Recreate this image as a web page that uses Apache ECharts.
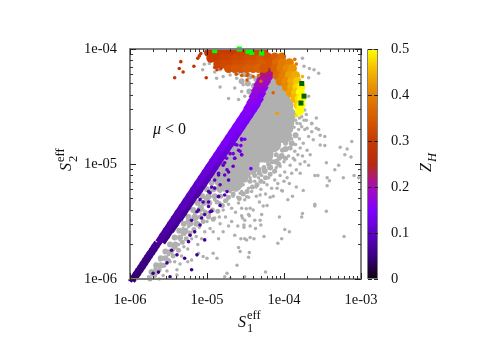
<!DOCTYPE html>
<html><head><meta charset="utf-8">
<style>html,body{margin:0;padding:0;background:#fff}#c{width:491px;height:343px}</style>
<script src="https://cdn.jsdelivr.net/npm/echarts@6/dist/echarts.min.js"></script>
</head><body><div id="c"></div>
<script>
// All points as [log10 S1, log10 S2] or [log10 S1, log10 S2, Z_H].
const xTickLabels=['1e-06','1e-05','1e-04','1e-03'];
const yTickLabels=['1e-06','1e-05','1e-04'];
const palette=['#100010','#3a0080','#5f00c8','#8000ff','#a80cb8','#b82a10','#c83a00','#d85c00','#e48000','#f4b400','#ffff00'];
const greyCore=[[-4.15,-4.32],[-4.07,-4.33],[-4.29,-4.4],[-4.17,-4.4],[-4.05,-4.4],[-4.35,-4.49],[-4.25,-4.49],[-4.15,-4.49],[-4.05,-4.49],[-3.98,-4.49],
[-4.42,-4.57],[-4.32,-4.57],[-4.22,-4.57],[-4.12,-4.57],[-4.02,-4.57],[-3.95,-4.57],[-4.5,-4.66],[-4.4,-4.66],[-4.3,-4.66],[-4.2,-4.66],[-4.1,-4.66],[-4.0,-4.66],[-3.97,-4.64],
[-4.55,-4.75],[-4.45,-4.75],[-4.35,-4.75],[-4.25,-4.75],[-4.15,-4.75],[-4.08,-4.75],[-4.0,-4.75],[-4.62,-4.83],[-4.52,-4.83],[-4.42,-4.83],[-4.32,-4.83],[-4.22,-4.83],[-4.14,-4.83],
[-4.7,-4.92],[-4.6,-4.92],[-4.5,-4.92],[-4.4,-4.92],[-4.32,-4.92],[-4.24,-4.92],[-4.78,-5.0],[-4.68,-5.0],[-4.58,-5.0],[-4.5,-5.0],[-4.42,-5.0],[-4.85,-5.09],[-4.75,-5.09],[-4.65,-5.09],[-4.55,-5.09],[-4.72,-5.17],[-4.64,-5.17]];
const greyMid=[[-4.6,-4.2],[-4.52,-4.22],[-4.44,-4.24],[-4.36,-4.26],[-4.55,-4.28],[-4.47,-4.3],[-4.39,-4.32],[-4.31,-4.3],[-4.24,-4.3],[-4.45,-4.37],[-4.37,-4.38],[-4.18,-4.32],[-4.1,-4.34],[-4.04,-4.36],[-3.96,-4.42],
[-3.92,-4.7],[-3.85,-4.75],[-3.9,-4.82],[-3.98,-4.87],[-4.03,-4.93],[-4.1,-4.98],[-4.18,-5.03],[-4.25,-5.06],[-4.33,-5.05],[-4.4,-5.07],[-4.47,-5.09],[-4.55,-5.1],[-4.6,-5.18],[-4.68,-5.2],[-4.76,-5.18],[-4.84,-5.2],[-4.92,-5.22],[-5.0,-5.3],[-5.08,-5.38],[-5.15,-5.47],[-5.24,-5.5],[-5.3,-5.6],[-5.42,-5.72],
[-4.88,-5.1],[-4.8,-5.1],[-4.72,-5.1],[-4.94,-5.16],[-4.86,-5.16],[-4.78,-5.16],[-5.0,-5.22],[-4.92,-5.22],[-4.84,-5.22],[-5.06,-5.28],[-4.98,-5.28],[-4.9,-5.28],[-5.12,-5.34],[-5.04,-5.34],[-4.97,-5.34],[-5.18,-5.4],[-5.1,-5.4],[-5.24,-5.46],[-5.16,-5.46],[-5.3,-5.52],[-5.22,-5.52],[-5.14,-5.52],[-5.36,-5.58],[-5.28,-5.58],[-5.42,-5.64],[-5.35,-5.64],[-5.48,-5.7],[-5.41,-5.7],[-5.54,-5.76],[-5.47,-5.76],[-5.6,-5.82],[-5.54,-5.82],[-5.66,-5.88],[-5.6,-5.88],[-5.72,-5.94],[-5.66,-5.94]];
const greyFill=[[-3.95,-4.78],[-3.92,-4.86],[-3.98,-4.82],[-4.02,-4.88],[-3.98,-4.95],[-4.06,-4.95],[-4.1,-4.92],[-4.07,-5.0],[-4.15,-4.98],[-4.12,-5.06],[-4.2,-5.0],[-4.18,-5.09],[-4.26,-5.03],[-4.24,-5.12],[-4.32,-5.08],[-4.3,-5.15],[-4.38,-5.1],[-4.35,-5.18],[-4.44,-5.15],[-4.41,-5.2],[-4.5,-5.14],[-4.48,-5.24],[-4.56,-5.18],[-4.53,-5.26],[-4.62,-5.22],[-4.58,-5.3],[-4.66,-5.26],[-4.7,-5.2],[-4.72,-5.29],[-4.78,-5.22],[-4.76,-5.32],[-4.82,-5.28],[-4.8,-5.36],[-4.87,-5.33],[-4.86,-5.41],[-4.93,-5.4],[-4.92,-5.48],[-4.98,-5.46],[-5.02,-5.42],[-5.05,-5.5],[-5.08,-5.46],[-5.12,-5.52],[-5.17,-5.57],[-5.22,-5.6],[-5.27,-5.65],[-5.32,-5.68],[-5.37,-5.75],[-5.44,-5.8],[-5.5,-5.84],[-5.56,-5.88],[-5.62,-5.92],[-5.68,-5.97],[-5.74,-6.0]];
const greyDots=[[-3.27,-4.855],[-3.12,-4.805],[-3.18,-4.87],[-3.21,-4.92],[-3.13,-4.94],[-3.29,-5.01],[-3.34,-5.05],[-3.09,-5.10],[-3.03,-5.12],[-3.23,-5.12],[-3.45,-4.99],[-3.60,-5.10],[-3.56,-5.10],[-3.44,-5.12],[-3.41,-5.145],[-3.44,-5.19],[-3.79,-5.08],[-3.84,-5.20],[-3.75,-5.23],[-3.89,-5.28],[-3.95,-5.31],[-3.60,-5.365],[-3.60,-5.35],[-3.45,-5.41],[-3.76,-5.43],[-3.77,-5.46],[-4.06,-5.46],[-3.99,-5.57],[-3.93,-5.59],[-3.22,-5.63],[-4.03,-5.65],[-4.08,-5.69],[-4.26,-5.63],[-4.39,-5.65],[-4.44,-5.64],[-4.45,-5.77],[-4.24,-5.94],[-4.51,-5.65],[-4.56,-5.65],[-4.57,-5.76],[-4.29,-5.44],[-4.30,-5.53],[-4.37,-5.56],[-4.38,-5.49],[-4.45,-5.45],[-4.54,-5.47],[-4.52,-5.53],[-4.52,-5.55],[-4.44,-5.54],[-4.31,-5.49],
[-3.83,-4.645],[-3.77,-4.675],[-3.70,-4.69],[-3.64,-4.645],[-3.55,-4.70],[-3.53,-4.75],[-3.47,-4.76],[-3.68,-4.76],[-3.62,-4.79],[-3.53,-4.835],[-3.47,-4.84],[-3.75,-4.82],[-3.70,-4.88],[-3.79,-4.86],[-3.86,-4.89],[-3.66,-4.92],[-3.73,-4.98],[-3.68,-5.01],[-3.79,-5.0],[-3.86,-4.965],[-3.92,-5.01],[-3.99,-5.07],[-4.05,-5.10],[-4.12,-5.14],[-4.16,-5.21],[-4.22,-5.18],[-4.29,-5.10],[-3.96,-5.12],[-4.09,-5.21],[-4.03,-5.23],[-4.02,-5.235],[-4.14,-5.28],[-4.18,-5.29],[-4.22,-5.36],[-4.27,-5.365],[-4.32,-5.33],[-4.40,-5.40],[-4.44,-5.385],[-4.49,-5.39],[-4.55,-5.385],[-4.31,-5.27],[-4.42,-5.24],[-4.51,-5.31],[-4.46,-5.21],[-4.38,-5.15],[-4.44,-5.12],[-4.53,-5.15],
[-3.76,-4.08],[-3.74,-4.15],[-3.67,-4.17],[-3.61,-4.18],[-3.68,-4.25],[-3.55,-4.21],[-3.68,-4.41],[-3.73,-4.53],[-3.77,-4.59],[-3.71,-4.62],[-3.64,-4.65],[-3.58,-4.60],[-3.79,-4.65],[-3.81,-4.70],[-3.73,-4.70],[-3.64,-4.72],[-3.58,-4.69],[-3.71,-4.57],[-3.83,-4.56],
[-5.035,-4.133],[-5.056,-4.18],[-4.97,-4.125],[-4.90,-4.20],[-4.83,-4.18],[-4.875,-4.255],[-4.79,-4.24],[-4.83,-4.33],[-4.72,-4.43],[-4.70,-4.225],[-4.64,-4.20],[-4.57,-4.17],[-4.615,-4.255],[-4.53,-4.31],[-4.64,-4.34],[-4.59,-4.44],[-4.51,-4.41],[-4.55,-4.37],
[-5.72,-5.965],[-5.76,-5.98],[-5.675,-5.91],[-5.57,-5.89],[-5.61,-5.835],[-5.50,-5.79],[-5.48,-5.85],[-5.39,-5.92],[-5.44,-5.75],[-5.37,-5.70],[-5.35,-5.66],[-5.29,-5.52],[-5.24,-5.545],[-5.31,-5.56],[-5.20,-5.52],[-5.11,-5.46],[-5.16,-5.43],[-5.07,-5.44],[-5.05,-5.40],[-5.00,-5.34],[-4.96,-5.285],[-4.90,-5.31],[-4.83,-5.24],[-4.83,-5.34],[-4.74,-5.31],[-4.70,-5.24],[-4.64,-5.21],[-4.57,-5.255],[-4.485,-5.285],[-4.68,-5.15],[-4.61,-5.14],[-4.53,-5.18],[-4.59,-5.34],[-4.68,-5.385],[-4.79,-5.40],[-4.87,-5.82],[-4.74,-5.95],[-4.61,-5.88],[-4.46,-5.81],[-4.59,-5.725],[-4.64,-5.62],[-4.485,-5.66],[-4.68,-5.50],[-4.51,-5.49],[-4.85,-5.65],[-4.92,-5.59],[-4.79,-5.59],[-4.83,-5.52],[-4.96,-5.56],[-5.03,-5.59],[-5.07,-5.65],[-5.11,-5.775],[-5.00,-5.82],[-4.92,-5.775],[-5.05,-5.805],[-5.20,-5.835],[-5.39,-5.965],[-4.77,-5.98],[-4.70,-5.995],[-4.51,-5.98],
[-4.0,-4.98],[-3.94,-4.93],[-3.88,-4.95],[-3.82,-4.92],[-3.76,-4.93],[-4.1,-5.03],[-4.05,-5.02],[-3.9,-5.08],[-3.84,-5.05],[-4.0,-5.15],[-3.93,-5.17],[-4.08,-5.17],[-4.13,-5.07],[-4.2,-5.12],[-4.26,-5.16],[-4.33,-5.12],[-4.36,-5.2],[-4.3,-5.22],[-4.24,-5.26],[-4.36,-5.28],[-4.46,-5.29],[-4.55,-5.24],[-4.6,-5.29],[-4.66,-5.28],[-4.72,-5.35],[-4.63,-5.42],[-4.55,-5.45],[-4.46,-5.44],[-4.76,-5.46],[-4.84,-5.46],[-4.9,-5.47],[-4.72,-5.54],[-4.6,-5.54],[-4.97,-5.44],[-5.0,-5.5],[-5.1,-5.55],[-5.14,-5.63],[-5.2,-5.65],[-5.12,-5.7],[-5.25,-5.74],[-5.3,-5.72],[-5.33,-5.8],[-5.25,-5.85],[-5.42,-5.85],[-5.35,-5.87],[-5.52,-5.93],[-5.57,-5.97],[-5.62,-6.0],[-3.9,-4.78],[-3.85,-4.83],[-3.8,-4.78],[-3.87,-4.68],[-3.9,-4.62],[-3.87,-4.55],[-3.85,-4.62],[-3.85,-4.48],[-3.8,-4.6],[-3.74,-4.62]];
const bandTail=[[-5.98,-6,.045],[-5.95,-5.97,.045],[-5.92,-5.94,.05],[-5.89,-5.91,.05],[-5.86,-5.88,.05],[-5.83,-5.85,.055],[-5.8,-5.82,.055],[-5.77,-5.79,.06],[-5.74,-5.76,.06],[-5.71,-5.73,.06],[-5.68,-5.7,.065],[-5.94,-6,.04],[-5.9,-5.97,.04],[-5.87,-5.94,.045],[-5.84,-5.91,.045],[-5.81,-5.88,.05],[-5.78,-5.85,.05],[-5.75,-5.82,.05],[-5.72,-5.79,.055],[-5.69,-5.76,.055],[-5.66,-5.73,.055],[-5.63,-5.7,.06]];
const bandLower=[[-5.55,-5.65,.055],[-5.5,-5.6,.06],[-5.44,-5.55,.06],[-5.39,-5.5,.065],[-5.33,-5.45,.07],[-5.28,-5.4,.07],[-5.23,-5.35,.075],[-5.18,-5.3,.08],[-5.12,-5.25,.08],[-5.07,-5.2,.085],[-5.02,-5.15,.09],[-4.97,-5.1,.095],[-4.92,-5.05,.1],[-4.87,-5.0,.105],[-4.82,-4.95,.11],[-4.77,-4.9,.115],[-4.72,-4.85,.12],[-4.67,-4.8,.125],[-4.62,-4.75,.13],[-4.57,-4.7,.135],[-4.52,-4.65,.14],[-4.47,-4.6,.14],[-4.42,-4.55,.145],[-4.37,-4.5,.15],[-4.33,-4.45,.155],[-4.3,-4.4,.16],[-4.27,-4.35,.17],[-4.24,-4.3,.185],[-4.2,-4.25,.2],[-4.17,-4.2,.215],[-4.13,-4.15,.23]];
const bandUpper=[[-5.6,-5.65,.07],[-5.55,-5.6,.07],[-5.5,-5.55,.075],[-5.45,-5.5,.08],[-5.4,-5.45,.08],[-5.35,-5.4,.085],[-5.3,-5.35,.09],[-5.25,-5.3,.09],[-5.2,-5.25,.095],[-5.15,-5.2,.1],[-5.1,-5.15,.105],[-5.05,-5.1,.11],[-5.0,-5.05,.115],[-4.95,-5.0,.12],[-4.9,-4.95,.125],[-4.85,-4.9,.13],[-4.8,-4.85,.135],[-4.75,-4.8,.14],[-4.7,-4.75,.14],[-4.65,-4.7,.145],[-4.6,-4.65,.15],[-4.55,-4.6,.15],[-4.5,-4.55,.155],[-4.46,-4.5,.16],[-4.42,-4.45,.165],[-4.39,-4.4,.17],[-4.36,-4.35,.18],[-4.33,-4.3,.195],[-4.29,-4.25,.21],[-4.25,-4.2,.225],[-4.21,-4.15,.24]];
const bandStray=[[-4.61,-4.835,.13],[-4.66,-4.91,.13],[-4.57,-4.89,.13],[-4.55,-4.78,.14],[-4.745,-4.95,.125],[-4.64,-4.95,.13],[-4.43,-5.04,.14],[-4.51,-4.785,.14],[-4.55,-4.92,.14],[-4.56,-4.84,.14],
[-4.79,-5.01,.1],[-4.72,-5.07,.1],[-4.85,-5.095,.09],[-4.72,-5.14,.09],[-4.90,-5.21,.085],[-4.77,-5.27,.085],[-4.85,-5.285,.08],[-4.98,-5.24,.08],[-5.09,-5.31,.08],[-4.98,-5.33,.08],[-4.96,-5.415,.075],[-5.07,-5.47,.07],[-5.13,-5.415,.075],[-5.20,-5.49,.07],[-5.09,-5.53,.07],[-5.22,-5.62,.065],[-5.24,-5.675,.065],[-5.03,-5.66,.065],[-5.16,-5.59,.065],[-5.39,-5.79,.06],[-5.46,-5.75,.06],[-5.52,-5.86,.055],[-5.63,-5.94,.05],[-5.29,-5.82,.055],[-5.13,-5.79,.055],[-5.20,-5.92,.05],[-5.48,-5.98,.05],[-5.70,-5.95,.05],
[-4.55,-4.79,.12],[-4.63,-4.83,.12],[-4.55,-4.92,.11],[-4.70,-4.91,.11],[-4.64,-4.95,.11],[-4.77,-4.99,.105],[-4.66,-5.02,.105],[-4.85,-5.08,.1],[-4.77,-5.095,.1],[-4.9,-5.14,.095],[-4.83,-5.18,.09],[-4.94,-5.2,.09],[-4.74,-5.24,.09],[-4.85,-5.28,.085],[-4.96,-5.25,.085],[-5.05,-5.33,.08],[-4.94,-5.41,.075],[-5.03,-5.44,.075],[-5.11,-5.40,.075],[-4.83,-5.36,.08],[-4.98,-5.37,.08],[-4.9,-5.04,.1],[-4.74,-5.05,.1],[-4.59,-4.88,.115]];
const hotCloud=[[-4.98,-4.03,.29],[-4.9,-4.03,.29],[-4.82,-4.03,.3],[-4.74,-4.03,.3],[-4.66,-4.03,.3],[-4.58,-4.03,.31],[-4.5,-4.03,.31],[-4.42,-4.03,.31],[-4.34,-4.03,.32],[-4.26,-4.03,.32],
[-4.95,-4.08,.3],[-4.87,-4.08,.3],[-4.79,-4.08,.31],[-4.71,-4.08,.31],[-4.63,-4.08,.32],[-4.55,-4.08,.32],[-4.47,-4.08,.33],[-4.39,-4.08,.33],[-4.31,-4.08,.34],[-4.24,-4.08,.34],
[-4.86,-4.13,.31],[-4.78,-4.13,.32],[-4.7,-4.13,.32],[-4.62,-4.13,.33],[-4.54,-4.13,.33],[-4.46,-4.13,.34],[-4.38,-4.13,.34],[-4.3,-4.13,.35],[-4.22,-4.13,.35],
[-4.72,-4.17,.33],[-4.64,-4.17,.34],[-4.56,-4.17,.34],[-4.48,-4.17,.35],[-4.4,-4.17,.35],[-4.33,-4.17,.36],[-4.26,-4.17,.34],
[-4.21,-4.07,.33],[-4.12,-4.07,.35],[-4.03,-4.07,.37],[-4.18,-4.12,.34],[-4.1,-4.12,.37],[-4.02,-4.12,.39],[-3.93,-4.12,.4],
[-4.12,-4.17,.36],[-4.04,-4.17,.39],[-3.96,-4.17,.41],[-3.89,-4.17,.42],[-4.09,-4.23,.37],[-4.01,-4.23,.4],[-3.93,-4.23,.43],[-3.85,-4.23,.44],
[-4.05,-4.28,.39],[-3.98,-4.28,.41],[-3.9,-4.28,.44],[-3.83,-4.28,.46],[-3.97,-4.33,.41],[-3.9,-4.33,.44],[-3.83,-4.33,.47],[-3.78,-4.33,.49],
[-3.92,-4.38,.43],[-3.85,-4.38,.46],[-3.79,-4.38,.5],[-3.86,-4.43,.45],[-3.8,-4.43,.48],[-3.77,-4.43,.5],[-3.82,-4.49,.47],[-3.78,-4.49,.5],[-3.8,-4.54,.5]];
const hotDots=[[-5.34,-4.11,.28],[-5.36,-4.17,.28],[-5.31,-4.2,.28],[-5.17,-4.15,.28],[-5.42,-4.25,.28],[-5.01,-4.25,.28],[-5.10,-4.06,.28],[-5.12,-4.08,.28],[-5.08,-4.04,.28],[-4.87,-4.18,.3],[-4.48,-4.27,.34],[-4.48,-4.23,.34],[-4.09,-4.56,.43],[-4.14,-4.38,.36],
[-4.9,-4.16,.31],[-4.82,-4.17,.31],[-4.62,-4.22,.34],[-4.55,-4.23,.35],[-4.47,-4.22,.35],[-4.4,-4.24,.36],[-4.33,-4.23,.36],[-4.3,-4.28,.36],[-3.86,-4.09,.38],[-3.84,-4.13,.39],[-3.76,-4.24,.45],[-3.76,-4.3,.47],[-3.84,-4.58,.48],[-3.76,-4.54,.5],[-3.74,-4.4,.5]];
const brightGreen=[[-4.9,-4.015],[-4.58,-4.0],[-4.47,-4.02],[-4.42,-4.03],[-4.29,-4.035]];
const darkGreen=[[-3.77,-4.3],[-3.74,-4.41],[-3.78,-4.47]];
const zTicks=[0,.1,.2,.3,.4,.5];
const barTop=[.5];

const lin=a=>a.map(p=>p.length>2?[10**p[0],10**p[1],p[2]]:[10**p[0],10**p[1]]);
const dec=(v)=>Math.round(Math.log10(v))+6;
const axisStyle={lineStyle:{color:'#808080',width:2}};
const tickStyle={show:true,inside:true,length:6,lineStyle:{color:'#222',width:1}};
const minorStyle={show:true,splitNumber:9,length:3,lineStyle:{color:'#333',width:1}};
const labelFont={fontFamily:'Liberation Serif',fontSize:14.5,color:'#111'};
const logAxis=(extra)=>Object.assign({type:'log',logBase:10,axisLine:Object.assign({show:true,onZero:false},axisStyle),axisTick:tickStyle,minorTick:minorStyle,splitLine:{show:false},minorSplitLine:{show:false},z:8},extra);
const dots=(data,size,color,extra)=>Object.assign({type:'scatter',xAxisIndex:0,yAxisIndex:0,data:lin(data),symbolSize:size,animation:false,silent:true,itemStyle:Object.assign({opacity:1},color?{color}:{})},extra||{});
const T=(text,x,y,size,italic,rot)=>({type:'text',x,y,rotation:rot||0,z:20,style:{text,fill:'#111',font:(italic?'italic ':'')+size+'px "Liberation Serif"',textAlign:'left',textVerticalAlign:'middle'}});
const slant={symbol:'rect',symbolRotate:-33.8};

const chart=echarts.init(document.getElementById('c'),null,{renderer:'canvas'});
const stops=palette.map((c,i)=>({offset:1-i/(palette.length-1),color:c}));
const series=[
 dots(greyCore,16,'#b0b0b0'),dots(greyMid,6,'#b0b0b0'),dots(greyFill,5,'#b0b0b0'),dots(greyDots,3.5,'#b0b0b0'),
 dots(bandTail,[4.5,6],null,slant),dots(bandStray,3.6),dots(bandLower,[7,9],null,slant),dots(bandUpper,[7,9],null,slant),
 dots(hotCloud,9),dots(hotDots,3.6),
 dots(brightGreen,5,'#00ff00',{symbol:'rect'}),dots(darkGreen,5,'#006400',{symbol:'rect'}),
 {type:'bar',xAxisIndex:2,yAxisIndex:2,data:barTop,barWidth:'100%',animation:false,silent:true,z:3,itemStyle:{color:{type:'linear',x:0,y:0,x2:0,y2:1,colorStops:stops},borderColor:'#808080',borderWidth:1}}
];
chart.setOption({
 animation:false,backgroundColor:'#fff',
 grid:[{left:130,top:49,width:231,height:230},{left:130,top:49,width:231,height:230},{left:367,top:49,width:11,height:230}],
 xAxis:[
  logAxis({gridIndex:0,min:1e-6,max:1e-3,position:'bottom',axisLabel:Object.assign({margin:14,formatter:v=>xTickLabels[dec(v)]},labelFont)}),
  logAxis({gridIndex:1,min:1e-6,max:1e-3,position:'top',axisLabel:{show:false}}),
  {type:'category',gridIndex:2,data:['Z'],show:false}
 ],
 yAxis:[
  logAxis({gridIndex:0,min:1e-6,max:1e-4,position:'left',axisLabel:Object.assign({margin:13,formatter:v=>yTickLabels[dec(v)]},labelFont)}),
  logAxis({gridIndex:1,min:1e-6,max:1e-4,position:'right',axisLabel:{show:false}}),
  {type:'value',gridIndex:2,min:0,max:.5,interval:.1,position:'right',z:9,axisLine:{show:false},
   axisTick:{show:true,inside:true,length:11,lineStyle:{color:'#222',type:'dashed',width:1}},splitLine:{show:false},
   axisLabel:Object.assign({margin:13,formatter:v=>String(zTicks[Math.round(v*10)])},labelFont)}
 ],
 visualMap:{show:false,type:'continuous',min:0,max:.5,dimension:2,seriesIndex:[4,5,6,7,8,9],inRange:{color:palette}},
 series,
 graphic:[
  {type:'group',children:[
   T('S',238,323,16,true),T('eff',247,316,12.5),T('1',247,329,12.5),
   T('S',67,171,16,true,Math.PI/2),T('eff',61,162,12.5,false,Math.PI/2),T('2',74,162,12.5,false,Math.PI/2),
   T('Z',427,172,16,true,Math.PI/2),T('H',433,162,12.5,true,Math.PI/2),
   T('\u03bc',153,130,16,true),T('< 0',165,130,16)
  ]}
 ]
});
</script></body></html>
